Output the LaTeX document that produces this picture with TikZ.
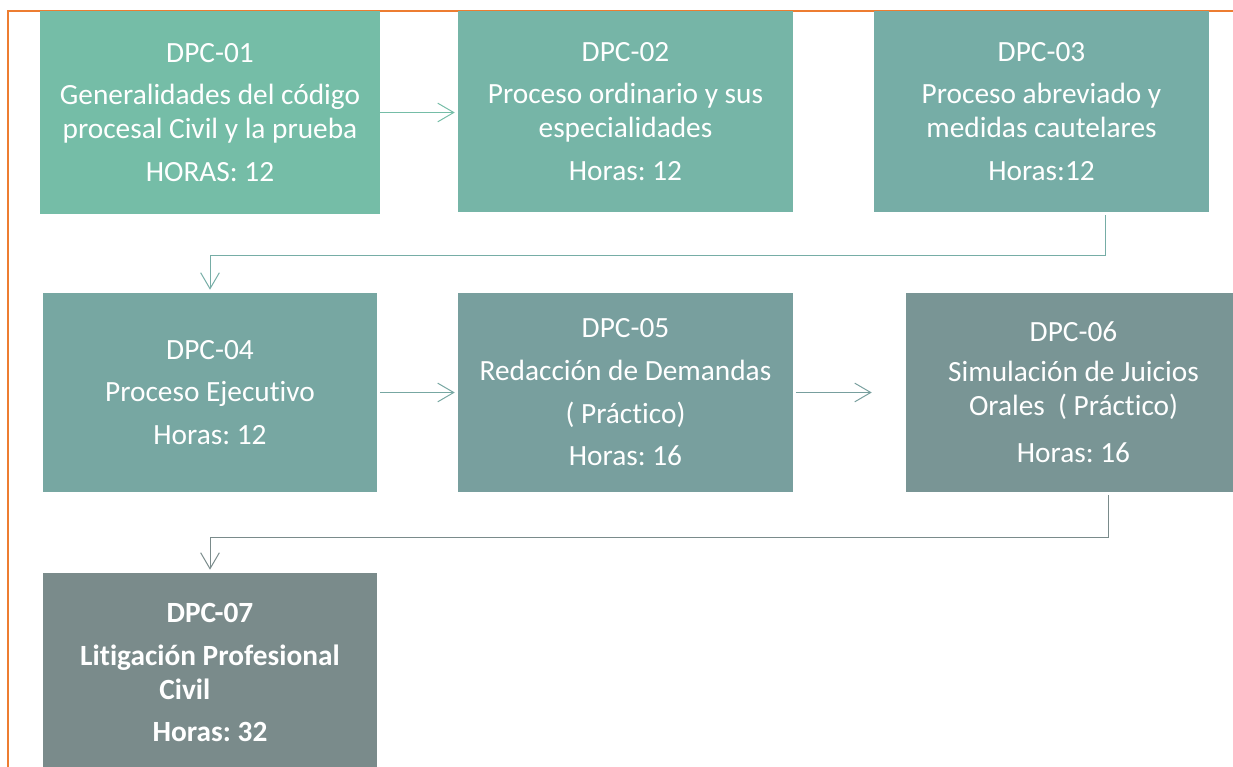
\documentclass[tikz,border=0pt]{standalone}
\usepackage{fontspec}
\setmainfont[Ligatures=NoCommon]{Carlito}
\usetikzlibrary{arrows.meta}
\definecolor{cA}{HTML}{75BDA7}
\definecolor{cB}{HTML}{76B5A7}
\definecolor{cC}{HTML}{76ADA6}
\definecolor{cD}{HTML}{77A7A2}
\definecolor{cE}{HTML}{789F9E}
\definecolor{cF}{HTML}{799595}
\definecolor{cG}{HTML}{7A8B8B}
\definecolor{frameor}{HTML}{ED7D31}
\frenchspacing
\begin{document}
\begin{tikzpicture}[x=0.75pt,y=-0.75pt,
  box/.style={rectangle, inner sep=0pt, text=white, align=center,
    font=\fontsize{22pt}{25.5pt}\selectfont},
  size/.style 2 args={minimum width=#1*0.75pt, minimum height=#2*0.75pt},
  arr/.style={line width=0.75pt, -{Straight Barb[length=12pt,width=14pt,line width=0.75pt]}},
  frame/.style={draw=frameor, line width=1.2pt}]
\useasboundingbox (0,0) rectangle (1233,767);
\draw[frame] (8,800) -- (8,11) -- (1260,11);

\node[box, size={340}{203}, fill=cA] (b01) at (210,112.5)
  {DPC-01\\[6.5pt]Generalidades del código\\procesal Civil y la prueba\\[6.5pt]HORAS: 12};
\node[box, size={335}{201}, fill=cB] (b02) at (625.5,111.5)
  {DPC-02\\[6.5pt]Proceso ordinario y sus\\especialidades\\[6.5pt]Horas: 12};
\node[box, size={335}{201}, fill=cC] (b03) at (1041.5,111.5)
  {DPC-03\\[6.5pt]Proceso abreviado y\\medidas cautelares\\[6.5pt]Horas:12};
\node[box, size={334}{199}, fill=cD] (b04) at (210,392.5)
  {DPC-04\\[6.5pt]Proceso Ejecutivo\\[6.5pt]Horas: 12};
\node[box, size={335}{199}, fill=cE] (b05) at (625.5,392.5)
  {DPC-05\\[6.5pt]Redacción de Demandas\\[6.5pt]( Práctico)\\[6.5pt]Horas: 16};
\node[box, size={335}{199}, fill=cF] (b06) at (1073.5,392.5)
  {DPC-06\\[4pt]Simulación de Juicios\\Orales~~( Práctico)\\[10pt]Horas: 16};
\node[box, size={334}{199}, fill=cG, font=\fontsize{22pt}{25.5pt}\selectfont\bfseries] (b07) at (210,672.5)
  {DPC-07\\[6.5pt]Litigación Profesional\\\makebox[76pt][l]{Civil}\\[6.5pt]Horas: 32};

\coordinate (t3) at (1105.5,215);
\coordinate (t6) at (1108,495);

\draw[arr, draw=cA, shorten >=2.25pt] (b01.east) -- (b01.east -| b02.west);
\draw[arr, draw=cD, shorten >=2.25pt, shorten <=2pt] (b04.east) -- (b05.west);
\draw[arr, draw=cE, shorten >=25.5pt, shorten <=2pt] (b05.east) -- (b06.west);
\draw[arr, draw=cC, shorten >=2.25pt] (t3) -- ++(0,40.5) -| (b04.north);
\draw[arr, draw=cG, shorten >=2.25pt] (t6) -- ++(0,42) -| (b07.north);
\end{tikzpicture}
\end{document}
